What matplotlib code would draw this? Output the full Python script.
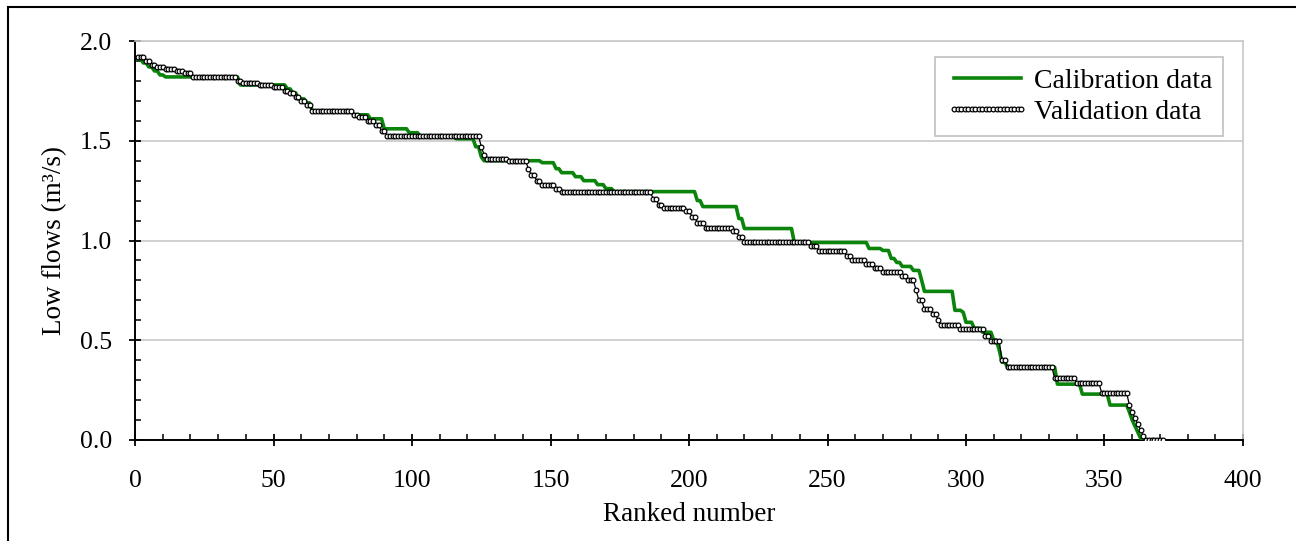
import numpy as np
import matplotlib
matplotlib.use('Agg')
import matplotlib.pyplot as plt
from matplotlib.ticker import MultipleLocator, FormatStrFormatter
from matplotlib.patches import Rectangle

# Calibration data: low flow levels (m3/s) and how many ranked days sit at each level
cal_flow = [1.91, 1.89, 1.87, 1.85, 1.83, 1.82, 1.78, 1.76, 1.74, 1.71, 1.69, 1.65,
            1.63, 1.61, 1.56, 1.54, 1.52, 1.51, 1.47, 1.42, 1.40, 1.39, 1.36, 1.34,
            1.32, 1.30, 1.28, 1.26, 1.245, 1.20, 1.17, 1.11, 1.06, 0.99, 0.96, 0.95,
            0.91, 0.89, 0.87, 0.85, 0.80, 0.745, 0.65, 0.64, 0.59, 0.56, 0.54, 0.50,
            0.45, 0.39, 0.365, 0.28, 0.23, 0.175, 0.14, 0.10, 0.07, 0.04, 0.01, 0.0]
cal_days = [2, 2, 2, 2, 2, 27, 17, 2, 2, 3, 2, 15,
            6, 5, 9, 4, 13, 7, 2, 1, 21, 5, 2, 5,
            3, 5, 3, 3, 30, 2, 13, 2, 18, 27, 5, 3,
            2, 2, 4, 3, 1, 11, 3, 1, 3, 3, 4, 2,
            1, 2, 18, 9, 10, 7, 1, 1, 1, 1, 1, 2]

# Validation data
val_flow = [1.92, 1.90, 1.88, 1.87, 1.86, 1.85, 1.84, 1.82, 1.80, 1.79, 1.78, 1.77,
            1.75, 1.74, 1.72, 1.70, 1.68, 1.65, 1.63, 1.62, 1.60, 1.58, 1.55, 1.525,
            1.47, 1.43, 1.41, 1.40, 1.36, 1.33, 1.30, 1.28, 1.26, 1.245, 1.21, 1.18,
            1.165, 1.15, 1.12, 1.09, 1.065, 1.05, 1.02, 0.99, 0.97, 0.945, 0.92, 0.90,
            0.88, 0.86, 0.84, 0.82, 0.80, 0.75, 0.70, 0.655, 0.63, 0.60, 0.575, 0.555,
            0.52, 0.495, 0.40, 0.365, 0.31, 0.285, 0.235, 0.175, 0.14, 0.11, 0.08, 0.05,
            0.02, 0.0]
val_days = [3, 2, 2, 3, 4, 3, 3, 16, 2, 6, 5, 4,
            2, 2, 2, 2, 2, 15, 2, 3, 3, 2, 2, 34,
            1, 1, 8, 7, 1, 2, 2, 5, 2, 33, 2, 2,
            8, 2, 2, 3, 10, 2, 2, 24, 3, 10, 2, 5,
            3, 3, 7, 2, 3, 1, 2, 3, 2, 1, 7, 9,
            2, 4, 2, 17, 8, 9, 10, 1, 1, 1, 1, 1,
            1, 7]

cal = np.repeat(cal_flow, cal_days)
val = np.repeat(val_flow, val_days)
cal_rank = np.arange(1, len(cal) + 1)
val_rank = np.arange(1, len(val) + 1)

plt.rcParams['font.family'] = 'Liberation Serif'
plt.rcParams['font.size'] = 18

fig = plt.figure(figsize=(12.96, 5.41), dpi=100)
ax = fig.add_axes([0.1042, 0.1867, 0.8549, 0.7375])

ax.plot(cal_rank, cal, color='#0a840a', lw=2.6, label='Calibration data', zorder=3)
ax.plot(val_rank, val, color='black', lw=0.9, marker='o', ms=3.4, mfc='white',
        mec='black', mew=0.9, label='Validation data', zorder=4)

ax.set_xlim(0, 400)
ax.set_ylim(0, 2.0)
ax.xaxis.set_major_locator(MultipleLocator(50))
ax.xaxis.set_minor_locator(MultipleLocator(10))
ax.yaxis.set_major_locator(MultipleLocator(0.5))
ax.yaxis.set_minor_locator(MultipleLocator(0.1))
ax.yaxis.set_major_formatter(FormatStrFormatter('%.1f'))

ax.tick_params(which='major', direction='inout', length=9, width=1.3, colors='black',
               labelsize=18.5)
ax.tick_params(which='minor', direction='in', length=4.5, width=1.1)
ax.tick_params(axis='x', which='major', pad=17)
ax.tick_params(axis='y', which='major', pad=12)

ax.grid(axis='y', which='major', color='#c8c8c8', lw=1.2)
ax.set_axisbelow(True)
for s in ['top', 'right']:
    ax.spines[s].set_color('#c8c8c8')
    ax.spines[s].set_linewidth(1.2)
for s in ['left', 'bottom']:
    ax.spines[s].set_linewidth(1.4)

ax.set_xlabel('Ranked number', fontsize=19.5, labelpad=7)
ax.set_ylabel('Low flows (m³/s)', fontsize=19.5, labelpad=9)

leg = ax.legend(loc='upper right', bbox_to_anchor=(0.982, 0.96), borderaxespad=0,
                fancybox=False, edgecolor='#c0c0c0', framealpha=1, numpoints=20,
                fontsize=20, handlelength=3.0, handletextpad=0.15, labelspacing=0.2,
                borderpad=0.4)
leg.get_frame().set_linewidth(1.2)

# frame around the whole figure
fig.add_artist(Rectangle((8 / 1296, -0.1), 1.2, 1.1 - 7 / 541, transform=fig.transFigure,
                         fill=False, edgecolor='black', lw=1.5))

fig.savefig('out.png', dpi=100)
